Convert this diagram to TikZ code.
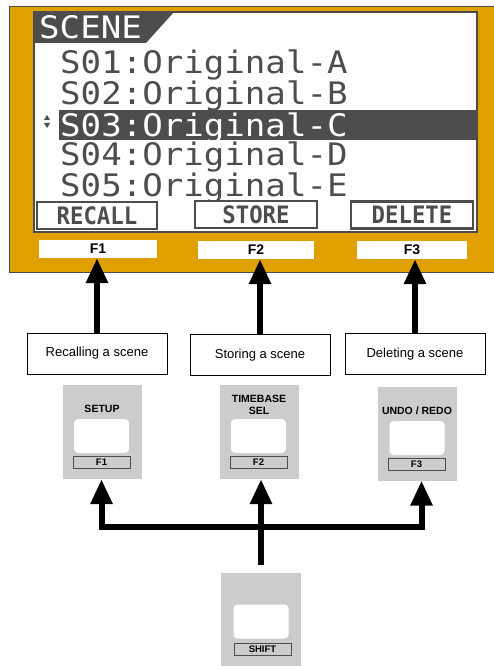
\documentclass[tikz,border=0pt]{standalone}
\usepackage{fontspec}
\setmainfont{Liberation Sans}
\newfontfamily\lcdfont[FakeStretch=1.1]{DejaVu Sans Mono}
\newfontfamily\softfont[FakeStretch=0.93]{DejaVu Sans Mono}
\usetikzlibrary{arrows.meta,positioning}

\definecolor{panelorange}{RGB}{224,160,0}
\definecolor{lcdgray}{RGB}{77,77,77}
\definecolor{keygray}{RGB}{204,204,204}

\begin{document}
\begin{tikzpicture}[x=1pt, y=-1pt, >={Triangle[width=21pt,length=25pt]},
	lcdline/.style={font=\lcdfont\fontsize{31}{31}\selectfont, text=lcdgray, inner sep=0pt, anchor=base west},
	softkey/.style={draw=lcdgray, line width=2.5pt, fill=white, inner sep=0pt, minimum width=120pt, minimum height=27pt, text=lcdgray, font=\softfont\bfseries\fontsize{24}{24}\selectfont},
	fbox/.style={fill=white, inner sep=0pt, minimum width=116pt, minimum height=18pt, font=\bfseries\fontsize{14}{14}\selectfont},
	capbox/.style={draw, line width=0.8pt, fill=white, minimum width=140pt, minimum height=41pt, font=\fontsize{13}{13}\selectfont},
	keybody/.style={fill=keygray, inner sep=0pt, minimum width=79pt, minimum height=94pt},
	keypad/.style={fill=white, rounded corners=4pt, inner sep=0pt, minimum width=55pt, minimum height=34pt},
	keytag/.style={draw=lcdgray, line width=0.8pt, fill=keygray, inner sep=0pt, minimum width=57pt, minimum height=12pt, font=\bfseries\fontsize{9.5}{9.5}\selectfont},
	keytitle/.style={inner sep=0pt, align=center, font=\bfseries\fontsize{10.5}{12}\selectfont},
	thickarrow/.style={->, line width=6pt}]
	\useasboundingbox (0,0) rectangle (494,666);

	% Panel and screen
	\fill[panelorange] (9,6) rectangle (494,272);
	\draw[lcdgray, thin] (494,6) -- (9,6) -- (9,272) -- (494,272);
	\draw[lcdgray, line width=1.5pt, fill=white] (34,12) rectangle (477,232);
	\fill[lcdgray] (35,12) -- (174,12) -- (146,43) -- (35,43) -- cycle;
	\fill[lcdgray] (59,110) rectangle (477,140);
	\fill[lcdgray] (44,120) -- (50,120) -- (47,115) -- cycle;
	\fill[lcdgray] (44,123) -- (50,123) -- (47,128) -- cycle;

	% Screen text
	\node [lcdline, text=white] (title) at (39,39)  {SCENE};
	\node [lcdline] 			(s1) 	at (60,74)  {S01:Original-A};
	\node [lcdline] 			(s2) 	at (60,105) {S02:Original-B};
	\node [lcdline, text=white] (s3) 	at (60,136) {S03:Original-C};
	\node [lcdline] 			(s4) 	at (60,165.5) {S04:Original-D};
	\node [lcdline] 			(s5) 	at (60,196) {S05:Original-E};

	% Soft keys {RECALL, STORE, DELETE}
	\node [softkey] 							(recall) at (97,215.5) {RECALL};
	\node [softkey, minimum width=122pt] 		(store)  at (256,214.5) {STORE};
	\node [softkey, minimum width=122pt] 		(delete) at (412,215) {DELETE};

	% Function labels {F1, F2, F3}
	\node [fbox, minimum width=118pt] 	(f1) at (98,249)  {F1};
	\node [fbox] 						(f2) at (256,250) {F2};
	\node [fbox, minimum width=110pt] 	(f3) at (412,250) {F3};

	% Captions
	\node [capbox] 	(c1) at (97,353.5) {Recalling a scene};
	\node [capbox] 	(c2) at (260,355)  {Storing a scene};
	\node [capbox] 	(c3) at (415,354)  {Deleting a scene};

	% Keys {SETUP, TIMEBASE SEL, UNDO / REDO, SHIFT}
	\node [keybody] 	(k1) at (102.5,432) {};
	\node [keybody] 	(k2) at (259.5,432) {};
	\node [keybody] 	(k3) at (417.5,433.5) {};
	\node [keybody, minimum width=80pt, minimum height=100pt] (k4) at (261,623) {};

	\node [keytitle] 	(t1) at (102,409) {SETUP};
	\node [keytitle] 	(t2) at (259,405) {TIMEBASE\\SEL};
	\node [keytitle] 	(t3) at (417,411) {UNDO / REDO};

	\node [keypad] 	(p1) at (101.5,436) {};
	\node [keypad] 	(p2) at (258.5,436) {};
	\node [keypad] 	(p3) at (417,438) {};
	\node [keypad] 	(p4) at (261,621.5) {};

	\node [keytag] 	(g1) at (101.5,462) {F1};
	\node [keytag] 	(g2) at (258.5,462) {F2};
	\node [keytag] 	(g3) at (416.5,464) {F3};
	\node [keytag] 	(g4) at (262.5,649) {SHIFT};

	% Paths
	\draw [thickarrow] (c1.north) -- (c1.north |- f1.south);
	\draw [thickarrow] (c2.north) -- (c2.north |- f2.south);
	\draw [thickarrow] (c3.north) -- (c3.north |- f3.south);

	\coordinate (hub) at (261,527);
	\draw [thickarrow, shorten <=8pt] (k4.north) -- (k4.north |- k2.south);
	\draw [thickarrow] (hub) -| ([xshift=-1pt]k1.south);
	\draw [thickarrow] (hub) -| ([xshift=4pt]k3.south);
\end{tikzpicture}
\end{document}
